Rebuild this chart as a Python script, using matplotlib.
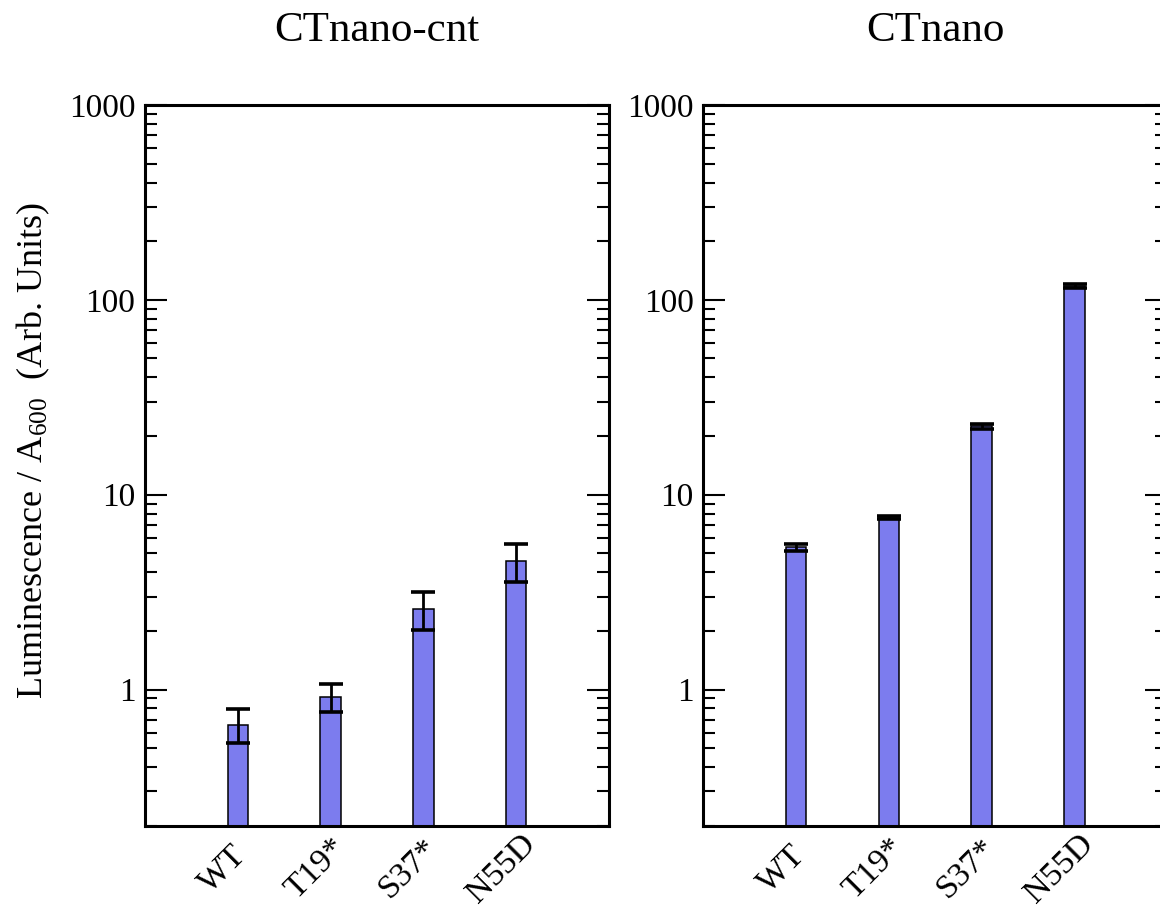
import matplotlib
matplotlib.use("Agg")
import matplotlib.pyplot as plt
from matplotlib.ticker import LogLocator, FixedLocator, NullFormatter, FixedFormatter, NullLocator
from matplotlib.transforms import ScaledTranslation

plt.rcParams['font.family'] = ['Liberation Serif', 'DejaVu Serif']
plt.rcParams['mathtext.fontset'] = 'custom'
plt.rcParams['mathtext.rm'] = 'Liberation Serif'
plt.rcParams['mathtext.it'] = 'Liberation Serif:italic'

categories = ["WT", "T19*", "S37*", "N55D"]
cnt_values = [0.66, 0.92, 2.60, 4.55]
cnt_errors = [0.13, 0.15, 0.57, 1.0]
nano_values = [5.37, 7.63, 22.5, 117.8]
nano_errors = [0.24, 0.13, 0.65, 2.3]
titles = ["CTnano-cnt", "CTnano"]
ytick_vals = [1, 10, 100, 1000]
ytick_labels = ["1", "10", "100", "1000"]
ylabel = "Luminescence / A$_{600}$  (Arb. Units)"

W, H = 1160, 908
fig = plt.figure(figsize=(W / 100, H / 100), dpi=100)

def px_rect(x0, y0, x1, y1):
    return [x0 / W, 1 - y1 / H, (x1 - x0) / W, (y1 - y0) / H]

ax1 = fig.add_axes(px_rect(145, 105, 609, 825.7))
ax2 = fig.add_axes(px_rect(703.3, 105, 1167.3, 825.7))

bar_color = '#7c7cee'
xpos = list(range(1, len(categories) + 1))

for ax, vals, errs, title in [(ax1, cnt_values, cnt_errors, titles[0]),
                              (ax2, nano_values, nano_errors, titles[1])]:
    ax.bar(xpos, vals, width=0.22, color=bar_color, edgecolor='black',
           linewidth=1.1, zorder=2)
    ax.errorbar(xpos, vals, yerr=errs, fmt='none', ecolor='black',
                elinewidth=2.0, capsize=8.3, capthick=2.6, zorder=3)
    ax.set_yscale('log')
    ax.set_ylim(0.2, 1000)
    ax.set_xlim(0, 5)
    ax.yaxis.set_major_locator(FixedLocator(ytick_vals))
    ax.yaxis.set_major_formatter(FixedFormatter(ytick_labels))
    ax.yaxis.set_minor_locator(LogLocator(base=10, subs=[2, 3, 4, 5, 6, 7, 8, 9], numticks=20))
    ax.yaxis.set_minor_formatter(NullFormatter())
    ax.tick_params(axis='y', which='both', direction='in', left=True, right=True)
    ax.tick_params(axis='y', which='major', length=15.8, width=1.5, labelsize=24, pad=7)
    ax.tick_params(axis='y', which='minor', length=8.6, width=1.5)
    ax.xaxis.set_major_locator(NullLocator())
    ax.xaxis.set_minor_locator(NullLocator())
    # rotated category labels, centred below each bar
    offset = ScaledTranslation(-15 / 100, -43 / 100, fig.dpi_scale_trans)
    for x, lab in zip(xpos, categories):
        ax.text(x, 0, lab, rotation=45, ha='center', va='center',
                rotation_mode='anchor', fontsize=24.5,
                transform=ax.get_xaxis_transform() + offset, clip_on=False)
    for sp in ax.spines.values():
        sp.set_linewidth(2.2)
    ax.set_title(title, fontsize=31, pad=46)

ax1.set_ylabel(ylabel, fontsize=26)
ax1.yaxis.set_label_coords(-0.2, 0.52)

fig.savefig("out.png", dpi=100)
